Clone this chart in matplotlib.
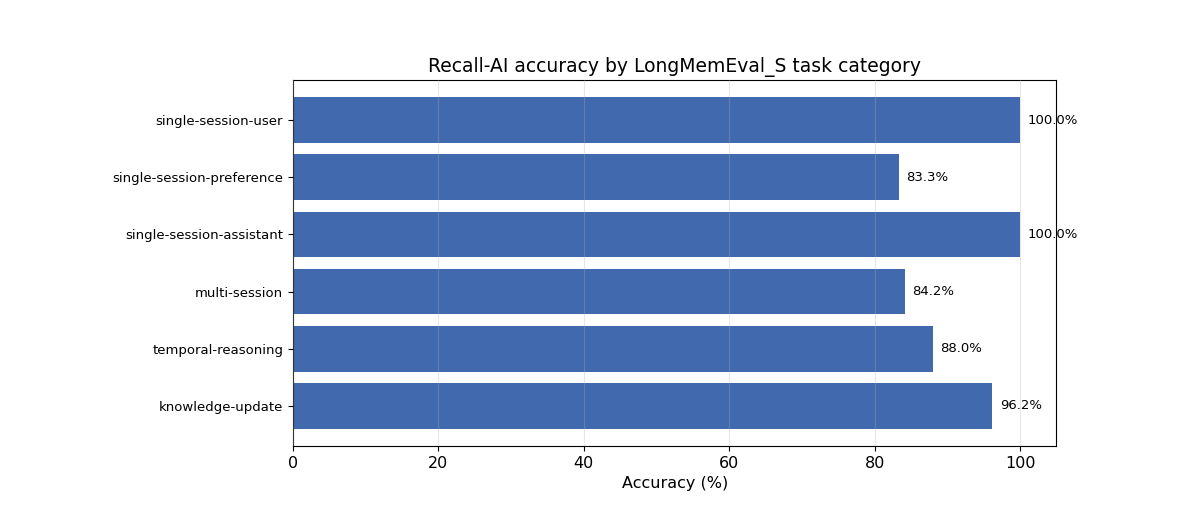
import matplotlib
matplotlib.use("Agg")
import matplotlib.pyplot as plt

categories = ["knowledge-update", "temporal-reasoning", "multi-session",
              "single-session-assistant", "single-session-preference", "single-session-user"]
accuracy = [96.2, 88.0, 84.2, 100.0, 83.3, 100.0]

fig = plt.figure(figsize=(11.91, 5.27), dpi=100)
ax = fig.add_axes([0.246, 0.154, 0.641, 0.694])
bars = ax.barh(categories, accuracy, color="#4169ad", height=0.8)
ax.set_xlim(0, 105)
ax.set_ylim(-0.7, 5.7)
ax.grid(axis="x", alpha=0.3)
ax.set_axisbelow(False)
for b, v in zip(bars, accuracy):
    ax.text(v + 1, b.get_y() + b.get_height() / 2, f"{v:.1f}%", va="center", fontsize=9.5)
ax.set_xlabel("Accuracy (%)", fontsize=11.5)
ax.set_title("Recall-AI accuracy by LongMemEval_S task category", fontsize=13.5)
ax.tick_params(axis="y", labelsize=9.5)
ax.tick_params(axis="x", labelsize=11.5)
fig.savefig("out.png", dpi=100)
